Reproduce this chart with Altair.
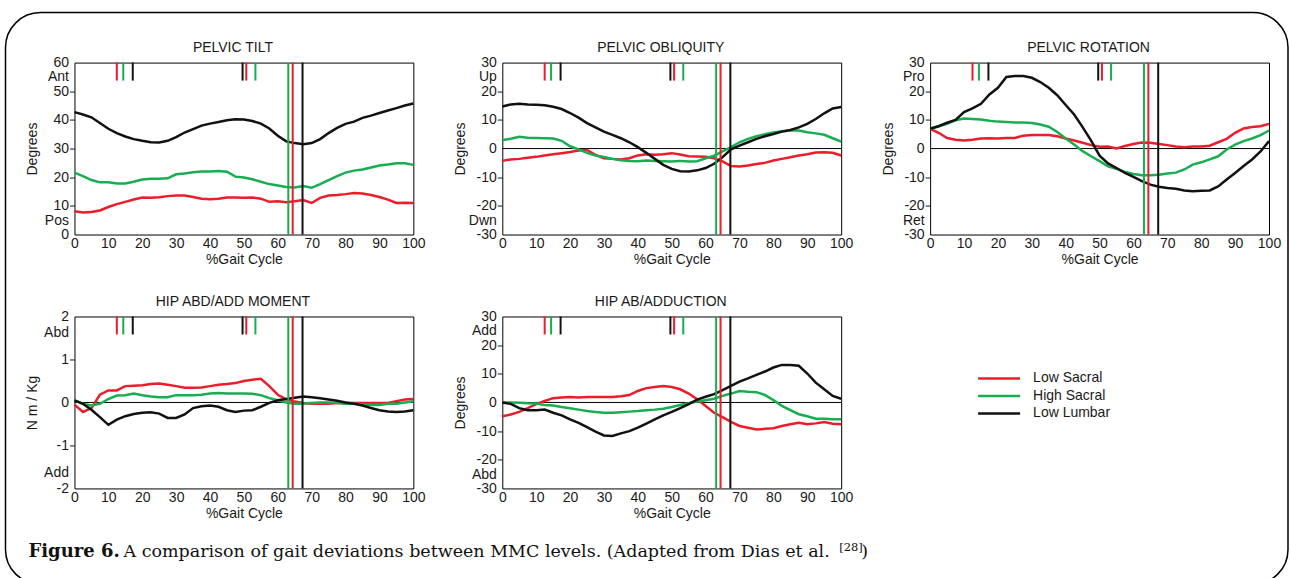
import json
import altair as alt
import pandas as pd

# ---------------- data ----------------
pct = [i * 2.5 for i in range(41)]

series_names = ["Low Sacral", "High Sacral", "Low Lumbar"]
series_colors = ["#ec1c2a", "#17ad50", "#111111"]

panel_titles = ["PELVIC  TILT", "PELVIC  OBLIQUITY", "PELVIC  ROTATION",
                "HIP  ABD/ADD MOMENT", "HIP  AB/ADDUCTION"]
y_titles = ["Degrees", "Degrees", "Degrees", "N m / Kg", "Degrees"]
y_domains = [[0, 60], [-30, 30], [-30, 30], [-2, 2], [-30, 30]]
y_tick_values = [[0, 10, 20, 30, 40, 50, 60],
                 [-30, -20, -10, 0, 10, 20, 30],
                 [-30, -20, -10, 0, 10, 20, 30],
                 [-2, -1, 0, 1, 2],
                 [-30, -20, -10, 0, 10, 20, 30]]
upper_words = ["Ant", "Up", "Pro", "Abd", "Add"]
lower_words = ["Pos", "Dwn", "Ret", "Add", "Abd"]
upper_word_at = [55, 25, 25, 1.62, 25]
lower_word_at = [5, -25, -25, -1.62, -25]
x_tick_values = [0, 10, 20, 30, 40, 50, 60, 70, 80, 90, 100]

# Pelvic tilt
tilt_red = [8.1, 7.7, 7.9, 8.4, 9.6, 10.6, 11.4, 12.2, 12.9, 12.8, 13.0, 13.4, 13.6, 13.6,
            13.1, 12.5, 12.3, 12.5, 12.9, 12.9, 12.8, 12.9, 12.5, 11.4, 11.6, 11.3, 11.6,
            12.0, 11.0, 12.8, 13.6, 13.8, 14.1, 14.5, 14.3, 13.8, 13.1, 12.2, 11.0, 11.1, 11.0]
tilt_green = [21.6, 20.4, 19.0, 18.2, 18.2, 17.8, 17.8, 18.4, 19.2, 19.5, 19.5, 19.6, 21.0,
              21.3, 21.7, 22.0, 22.0, 22.2, 21.9, 20.2, 19.9, 19.3, 18.4, 17.6, 17.1, 16.6,
              16.4, 16.9, 16.3, 17.6, 19.0, 20.4, 21.6, 22.3, 22.7, 23.4, 24.1, 24.4, 24.9, 24.9, 24.3]
tilt_black = [42.7, 41.9, 40.9, 38.9, 36.9, 35.4, 34.2, 33.3, 32.7, 32.2, 32.1, 32.7, 34.0,
              35.6, 36.8, 38.0, 38.7, 39.3, 39.9, 40.2, 40.1, 39.6, 38.7, 37.0, 34.5, 32.5,
              31.9, 31.5, 31.9, 33.3, 35.4, 37.2, 38.6, 39.4, 40.7, 41.5, 42.4, 43.3, 44.1, 45.0, 45.7]

# Pelvic obliquity
obl_red = [-4.3, -3.8, -3.6, -3.2, -2.9, -2.4, -2.0, -1.6, -1.2, -0.7, -0.5, -2.2, -3.4, -3.6,
           -3.8, -3.4, -2.4, -2.0, -2.2, -2.0, -1.6, -2.1, -2.7, -2.8, -2.9, -3.4, -4.5, -6.1,
           -6.3, -5.9, -5.4, -5.0, -4.2, -3.6, -3.0, -2.4, -2.0, -1.4, -1.3, -1.5, -2.4]
obl_green = [3.0, 3.4, 4.1, 3.8, 3.7, 3.6, 3.5, 2.7, 0.8, -0.3, -1.5, -2.4, -2.9, -3.6, -4.1,
             -4.3, -4.4, -4.2, -4.3, -4.4, -4.5, -4.3, -4.5, -4.4, -3.4, -2.5, -1.0, 0.5, 2.2,
             3.4, 4.3, 5.0, 5.6, 6.0, 6.3, 6.3, 5.7, 5.3, 4.8, 3.6, 2.4]
obl_black = [14.7, 15.4, 15.6, 15.4, 15.3, 15.1, 14.6, 13.8, 12.4, 10.8, 8.9, 7.4, 5.9, 4.8,
             3.6, 2.2, 0.5, -1.5, -3.6, -5.7, -7.1, -7.9, -8.0, -7.6, -6.8, -5.3, -3.0, -0.3,
             1.0, 2.2, 3.4, 4.3, 5.1, 5.9, 6.5, 7.4, 8.6, 10.3, 12.3, 14.0, 14.5]

# Pelvic rotation
rot_red = [6.9, 5.5, 3.7, 3.1, 2.8, 3.1, 3.5, 3.6, 3.5, 3.7, 3.7, 4.5, 4.7, 4.7, 4.7, 4.3, 3.5,
           2.8, 2.0, 1.2, 0.6, 0.7, 0.0, 0.9, 1.6, 2.1, 2.0, 1.6, 1.2, 0.7, 0.5, 0.7, 0.7, 1.0,
           2.2, 3.4, 5.5, 7.0, 7.5, 7.8, 8.6]
rot_green = [6.9, 7.8, 8.6, 9.9, 10.5, 10.3, 10.1, 9.7, 9.4, 9.3, 9.1, 9.1, 8.9, 8.4, 7.6, 5.8,
             3.5, 1.4, -0.9, -2.7, -4.4, -6.2, -7.1, -8.2, -8.9, -9.3, -9.3, -9.1, -8.7, -8.4,
             -7.3, -5.6, -4.8, -3.8, -2.7, -0.3, 1.4, 2.6, 3.5, 4.7, 6.3]
rot_black = [6.9, 7.8, 9.0, 10.0, 12.7, 14.0, 15.6, 18.9, 21.2, 25.0, 25.3, 25.3, 24.7, 23.2,
             21.2, 18.6, 15.2, 11.9, 7.5, 2.8, -2.5, -5.2, -6.8, -8.5, -9.9, -11.4, -12.6,
             -13.3, -13.8, -14.0, -14.6, -14.9, -14.7, -14.6, -13.2, -10.8, -8.5, -6.1, -3.8, -1.0, 2.6]

# Hip abd/add moment
mom_red = [-0.05, -0.22, -0.13, 0.18, 0.28, 0.28, 0.38, 0.39, 0.40, 0.43, 0.44, 0.41, 0.38,
           0.34, 0.34, 0.35, 0.38, 0.41, 0.43, 0.45, 0.50, 0.53, 0.55, 0.38, 0.18, 0.07, 0.02,
           -0.01, -0.03, -0.03, -0.03, -0.01, -0.01, -0.01, -0.01, -0.01, -0.01, -0.01, 0.03, 0.07, 0.08]
mom_green = [0.05, -0.03, -0.07, -0.03, 0.08, 0.16, 0.17, 0.21, 0.17, 0.14, 0.12, 0.12, 0.17,
             0.17, 0.17, 0.18, 0.21, 0.22, 0.21, 0.21, 0.21, 0.20, 0.17, 0.10, 0.05, 0.00,
             -0.03, -0.03, -0.01, 0.00, 0.00, -0.01, -0.03, -0.03, -0.05, -0.06, -0.06, -0.03,
             -0.03, 0.00, 0.03]
mom_black = [0.05, -0.03, -0.17, -0.34, -0.52, -0.40, -0.32, -0.27, -0.24, -0.23, -0.26, -0.36,
             -0.36, -0.28, -0.13, -0.09, -0.07, -0.10, -0.18, -0.22, -0.19, -0.18, -0.10, -0.01,
             0.05, 0.08, 0.11, 0.14, 0.12, 0.10, 0.07, 0.04, 0.00, -0.03, -0.07, -0.13, -0.18,
             -0.21, -0.22, -0.21, -0.18]

# Hip ab/adduction
abd_red = [-4.8, -4.2, -3.3, -2.0, -0.6, 0.5, 1.5, 1.7, 1.9, 1.7, 1.9, 1.9, 1.9, 1.9, 2.2, 2.6,
           4.0, 5.0, 5.4, 5.7, 5.4, 4.6, 3.1, 1.1, -1.2, -3.6, -5.1, -6.8, -8.2, -8.8, -9.4,
           -9.2, -9.0, -8.2, -7.6, -7.1, -7.6, -7.3, -6.8, -7.4, -7.6]
abd_green = [0.0, 0.0, -0.1, -0.3, -0.4, -0.9, -1.1, -1.6, -2.0, -2.5, -3.0, -3.3, -3.6, -3.6,
             -3.4, -3.2, -3.0, -2.7, -2.5, -2.2, -1.6, -0.9, -0.3, 0.3, 0.8, 1.3, 2.3, 3.1, 4.0,
             3.7, 3.6, 2.6, 0.8, -1.2, -2.7, -4.1, -4.8, -5.7, -5.7, -5.9, -5.9]
abd_black = [0.0, -0.5, -2.0, -2.7, -2.7, -2.5, -3.6, -4.5, -5.9, -7.1, -8.6, -10.2, -11.5,
             -11.7, -10.8, -10.0, -8.8, -7.4, -5.9, -4.5, -3.3, -2.0, -0.6, 1.0, 2.0, 2.9, 4.3,
             5.8, 7.3, 8.4, 9.6, 10.8, 12.2, 13.1, 13.1, 12.8, 10.1, 6.9, 4.6, 2.3, 1.3]

panel_values = [
    [tilt_red, tilt_green, tilt_black],
    [obl_red, obl_green, obl_black],
    [rot_red, rot_green, rot_black],
    [mom_red, mom_green, mom_black],
    [abd_red, abd_green, abd_black],
]
for group in panel_values:
    for arr in group:
        assert len(arr) == len(pct), len(arr)

# gait events (% gait cycle)
opp_event_series = ["Low Sacral", "High Sacral", "Low Lumbar", "Low Lumbar", "Low Sacral", "High Sacral"]
opp_event_pct = [12.5, 14.4, 17.2, 49.6, 50.7, 53.4]
toe_off_series = ["High Sacral", "Low Sacral", "Low Lumbar"]
toe_off_pct = [63.1, 64.4, 67.3]

caption_bold = "Figure 6."
caption_text = "A comparison of gait deviations between MMC levels. (Adapted from Dias et al."
caption_ref = "[28]"
caption_close = ")"

# ---------------- layout / style ----------------
W, H = 339, 172
COL_GAP, ROW_GAP = 89, 82
SANS = "Liberation Sans"
SERIF = "DejaVu Serif"
INK = "#1a1a1a"

color_scale = alt.Scale(domain=series_names, range=series_colors)
color = alt.Color("series:N", scale=color_scale, legend=None)
one_row = pd.DataFrame({"k": [0]})


def make_panel(i):
    rows = []
    for s, arr in zip(series_names, panel_values[i]):
        for p, v in zip(pct, arr):
            rows.append({"pct": p, "value": v, "series": s})
    df = pd.DataFrame(rows)
    lo, hi = y_domains[i]
    up, dn = upper_word_at[i], lower_word_at[i]
    y_vals = sorted(y_tick_values[i] + [up, dn])
    hide = [lo, hi, 0, up, dn]
    label_expr = (f"datum.value == {up} ? '{upper_words[i]}' : "
                  f"datum.value == {dn} ? '{lower_words[i]}' : '' + datum.value")
    y_axis = alt.Axis(values=y_vals, labelExpr=label_expr, tickSize=5, labelPadding=1,
                      labelFlush=False, labelOverlap=False, labelBaseline="middle",
                      tickOpacity={"condition": {"test": f"indexof({json.dumps(hide)}, datum.value) >= 0",
                                                 "value": 0}, "value": 1},
                      title=y_titles[i], titleX=-42, titleBaseline="middle")
    x_axis = alt.Axis(values=x_tick_values, tickSize=0, labelPadding=2, labelFlush=False,
                      labelOverlap=False, labelExpr="'' + datum.value",
                      title="%Gait Cycle", titleY=25, titleBaseline="middle")
    x = alt.X("pct:Q", scale=alt.Scale(domain=[0, 100], nice=False, zero=False), axis=x_axis)
    y = alt.Y("value:Q", scale=alt.Scale(domain=[lo, hi], nice=False, zero=False), axis=y_axis)

    layers = []
    if lo < 0:
        layers.append(alt.Chart(pd.DataFrame({"value": [0]})).mark_rule(
            color="black", strokeWidth=1).encode(y=y))
    layers.append(alt.Chart(df).mark_line(strokeWidth=2.5).encode(x=x, y=y, color=color))
    layers.append(alt.Chart(pd.DataFrame({"pct": toe_off_pct, "series": toe_off_series}))
                  .mark_rule(strokeWidth=2).encode(x=x, color=color))
    layers.append(alt.Chart(pd.DataFrame({"pct": opp_event_pct, "series": opp_event_series}))
                  .mark_rule(strokeWidth=2)
                  .encode(x=x, y=alt.value(0), y2=alt.value(18), color=color))
    layers.append(alt.Chart(one_row).mark_text(
        text=panel_titles[i], font=SANS, fontSize=14, color=INK, align="center", baseline="middle")
        .encode(x=alt.value(W / 2 - 11), y=alt.value(-14.5)))
    return alt.layer(*layers).properties(width=W, height=H)


panels = [make_panel(i) for i in range(5)]

# legend cell + figure frame + caption (cell origin = 930, 316 in page pixels)
CX, CY = 930, 316
leg_df = pd.DataFrame({"series": series_names, "idx": list(range(len(series_names)))})
ly = alt.Y("idx:Q", scale=alt.Scale(domain=[0, 2], range=[62, 97]), axis=None)
leg_lines = alt.Chart(leg_df).mark_rule(strokeWidth=2.5).encode(
    x=alt.value(48), x2=alt.value(90), y=ly, color=color)
leg_text = alt.Chart(leg_df).mark_text(align="left", baseline="middle", font=SANS,
                                       fontSize=14, color=INK).encode(
    x=alt.value(103), y=ly, text="series:N")
frame = alt.Chart(one_row).mark_rect(fillOpacity=0, stroke="black", strokeWidth=1.5,
                                     cornerRadius=35).encode(
    x=alt.value(5 - CX), x2=alt.value(1288 - CX), y=alt.value(12 - CY), y2=alt.value(584 - CY))
cap1 = alt.Chart(one_row).mark_text(text=caption_bold, font=SERIF, fontWeight="bold",
                                    fontSize=18, align="left", baseline="alphabetic",
                                    color="#111").encode(
    x=alt.value(28 - CX), y=alt.value(557 - CY))
cap2 = alt.Chart(one_row).mark_text(text=caption_text, font=SERIF, fontSize=17.5, align="left",
                                    baseline="alphabetic", color="#111").encode(
    x=alt.value(123 - CX), y=alt.value(557 - CY))
cap3 = alt.Chart(one_row).mark_text(text=caption_ref, font=SERIF, fontSize=11.5, align="left",
                                    baseline="alphabetic", color="#111").encode(
    x=alt.value(839 - CX), y=alt.value(551 - CY))
cap4 = alt.Chart(one_row).mark_text(text=caption_close, font=SERIF, fontSize=17.5, align="left",
                                    baseline="alphabetic", color="#111").encode(
    x=alt.value(861 - CX), y=alt.value(557 - CY))
legend_cell = alt.layer(frame, leg_lines, leg_text, cap1, cap2, cap3, cap4).properties(
    width=W, height=H, view=alt.ViewBackground(stroke="transparent"))

chart = alt.concat(*panels, legend_cell, columns=3,
                   spacing=alt.RowColnumber(row=ROW_GAP, column=COL_GAP),
                   bounds="flush").properties(
    padding={"left": 3.5, "top": 10.5, "right": 0, "bottom": 0},
    background="white",
).configure_view(stroke="black", strokeWidth=1).configure_axis(
    labelFont=SANS, titleFont=SANS, labelFontSize=14, titleFontSize=14,
    labelColor=INK, titleColor=INK, titleFontWeight="normal", grid=False, domain=False,
    tickColor=INK, tickWidth=1,
)

chart.save("out.html", embed_options={"renderer": "svg", "actions": False})
